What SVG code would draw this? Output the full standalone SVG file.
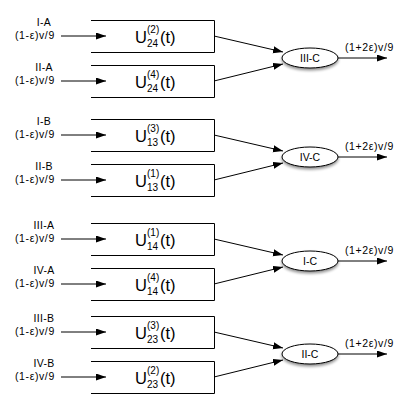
<svg xmlns="http://www.w3.org/2000/svg" width="409" height="414" viewBox="0 0 409 414">
<style>
text{font-family:"Liberation Sans",Arial,sans-serif;fill:#000}
.lbl{font-size:10.5px;letter-spacing:0.6px}
.lblc{font-size:10.5px;text-anchor:middle;letter-spacing:0.3px}
.u{font-size:16.5px}
.s{font-size:10px}
.box{fill:none;stroke:#000;stroke-width:1}
.ell{fill:#fff;stroke:#000;stroke-width:1}
.ln{stroke:#000;stroke-width:1;fill:none;marker-end:url(#ah)}
.nt{font-size:10.5px;text-anchor:middle}
</style>
<defs>
<marker id="ah" markerUnits="userSpaceOnUse" markerWidth="11" markerHeight="8" refX="10" refY="3.5" orient="auto">
<path d="M0,0 L10,3.5 L0,7 z" fill="#000"/>
</marker>
<filter id="sh" x="-30%" y="-50%" width="160%" height="220%">
<feGaussianBlur in="SourceAlpha" stdDeviation="1.5"/>
<feOffset dx="0" dy="1.5" result="b"/>
<feComponentTransfer><feFuncA type="linear" slope="0.45"/></feComponentTransfer>
<feMerge><feMergeNode/><feMergeNode in="SourceGraphic"/></feMerge>
</filter>
</defs>

<g id="connectors">
<line class="ln" x1="61" y1="36" x2="106" y2="36"/>
<line class="ln" x1="61" y1="81" x2="106" y2="81"/>
<line class="ln" x1="214" y1="36" x2="283" y2="52"/>
<line class="ln" x1="214" y1="81" x2="283" y2="64"/>
<line class="ln" x1="338" y1="58" x2="387" y2="58"/>

<line class="ln" x1="61" y1="135" x2="106" y2="135"/>
<line class="ln" x1="61" y1="180" x2="106" y2="180"/>
<line class="ln" x1="214" y1="135" x2="283" y2="151"/>
<line class="ln" x1="214" y1="180" x2="283" y2="163"/>
<line class="ln" x1="338" y1="157" x2="387" y2="157"/>

<line class="ln" x1="61" y1="239" x2="106" y2="239"/>
<line class="ln" x1="61" y1="284" x2="106" y2="284"/>
<line class="ln" x1="214" y1="239" x2="283" y2="255"/>
<line class="ln" x1="214" y1="284" x2="283" y2="267"/>
<line class="ln" x1="338" y1="261" x2="387" y2="261"/>

<line class="ln" x1="61" y1="332" x2="106" y2="332"/>
<line class="ln" x1="61" y1="377" x2="106" y2="377"/>
<line class="ln" x1="214" y1="332" x2="283" y2="348"/>
<line class="ln" x1="214" y1="377" x2="283" y2="360"/>
<line class="ln" x1="338" y1="354" x2="387" y2="354"/>
</g>

<!-- Group 1 -->
<g id="in-IA"><text class="lblc" x="44" y="26">I-A</text><text class="lbl" x="15" y="39">(1-ε)v/9</text></g>
<g id="in-IIA"><text class="lblc" x="44" y="71">II-A</text><text class="lbl" x="15" y="84">(1-ε)v/9</text></g>
<g id="box-U24-2"><path class="box" d="M91,20.5 H214.5 V52.5 H91"/><text class="u" x="135" y="43">U</text><text class="s" x="147" y="33">(2)</text><text class="s" x="147" y="47">24</text><text class="u" x="160" y="43">(t)</text></g>
<g id="box-U24-4"><path class="box" d="M91,65.5 H214.5 V97.5 H91"/><text class="u" x="135" y="88">U</text><text class="s" x="147" y="78">(4)</text><text class="s" x="147" y="92">24</text><text class="u" x="160" y="88">(t)</text></g>
<g id="node-IIIC"><ellipse class="ell" filter="url(#sh)" cx="310" cy="58" rx="28" ry="10"/><text class="nt" x="310" y="62">III-C</text></g>
<g id="out-IIIC"><text class="lbl" x="345" y="51">(1+2ε)v/9</text></g>

<!-- Group 2 -->
<g id="in-IB"><text class="lblc" x="44" y="125">I-B</text><text class="lbl" x="15" y="138">(1-ε)v/9</text></g>
<g id="in-IIB"><text class="lblc" x="44" y="170">II-B</text><text class="lbl" x="15" y="183">(1-ε)v/9</text></g>
<g id="box-U13-3"><path class="box" d="M91,119.5 H214.5 V151.5 H91"/><text class="u" x="135" y="142">U</text><text class="s" x="147" y="132">(3)</text><text class="s" x="147" y="146">13</text><text class="u" x="160" y="142">(t)</text></g>
<g id="box-U13-1"><path class="box" d="M91,164.5 H214.5 V196.5 H91"/><text class="u" x="135" y="187">U</text><text class="s" x="147" y="177">(1)</text><text class="s" x="147" y="191">13</text><text class="u" x="160" y="187">(t)</text></g>
<g id="node-IVC"><ellipse class="ell" filter="url(#sh)" cx="310" cy="157" rx="28" ry="10"/><text class="nt" x="310" y="161">IV-C</text></g>
<g id="out-IVC"><text class="lbl" x="345" y="150">(1+2ε)v/9</text></g>

<!-- Group 3 -->
<g id="in-IIIA"><text class="lblc" x="44" y="229">III-A</text><text class="lbl" x="15" y="242">(1-ε)v/9</text></g>
<g id="in-IVA"><text class="lblc" x="44" y="274">IV-A</text><text class="lbl" x="15" y="287">(1-ε)v/9</text></g>
<g id="box-U14-1"><path class="box" d="M91,223.5 H214.5 V255.5 H91"/><text class="u" x="135" y="246">U</text><text class="s" x="147" y="236">(1)</text><text class="s" x="147" y="250">14</text><text class="u" x="160" y="246">(t)</text></g>
<g id="box-U14-4"><path class="box" d="M91,268.5 H214.5 V300.5 H91"/><text class="u" x="135" y="291">U</text><text class="s" x="147" y="281">(4)</text><text class="s" x="147" y="295">14</text><text class="u" x="160" y="291">(t)</text></g>
<g id="node-IC"><ellipse class="ell" filter="url(#sh)" cx="310" cy="261" rx="28" ry="10"/><text class="nt" x="310" y="265">I-C</text></g>
<g id="out-IC"><text class="lbl" x="345" y="254">(1+2ε)v/9</text></g>

<!-- Group 4 -->
<g id="in-IIIB"><text class="lblc" x="44" y="322">III-B</text><text class="lbl" x="15" y="335">(1-ε)v/9</text></g>
<g id="in-IVB"><text class="lblc" x="44" y="367">IV-B</text><text class="lbl" x="15" y="380">(1-ε)v/9</text></g>
<g id="box-U23-3"><path class="box" d="M91,316.5 H214.5 V348.5 H91"/><text class="u" x="135" y="339">U</text><text class="s" x="147" y="329">(3)</text><text class="s" x="147" y="343">23</text><text class="u" x="160" y="339">(t)</text></g>
<g id="box-U23-2"><path class="box" d="M91,361.5 H214.5 V393.5 H91"/><text class="u" x="135" y="384">U</text><text class="s" x="147" y="374">(2)</text><text class="s" x="147" y="388">23</text><text class="u" x="160" y="384">(t)</text></g>
<g id="node-IIC"><ellipse class="ell" filter="url(#sh)" cx="310" cy="354" rx="28" ry="10"/><text class="nt" x="310" y="358">II-C</text></g>
<g id="out-IIC"><text class="lbl" x="345" y="347">(1+2ε)v/9</text></g>
</svg>
